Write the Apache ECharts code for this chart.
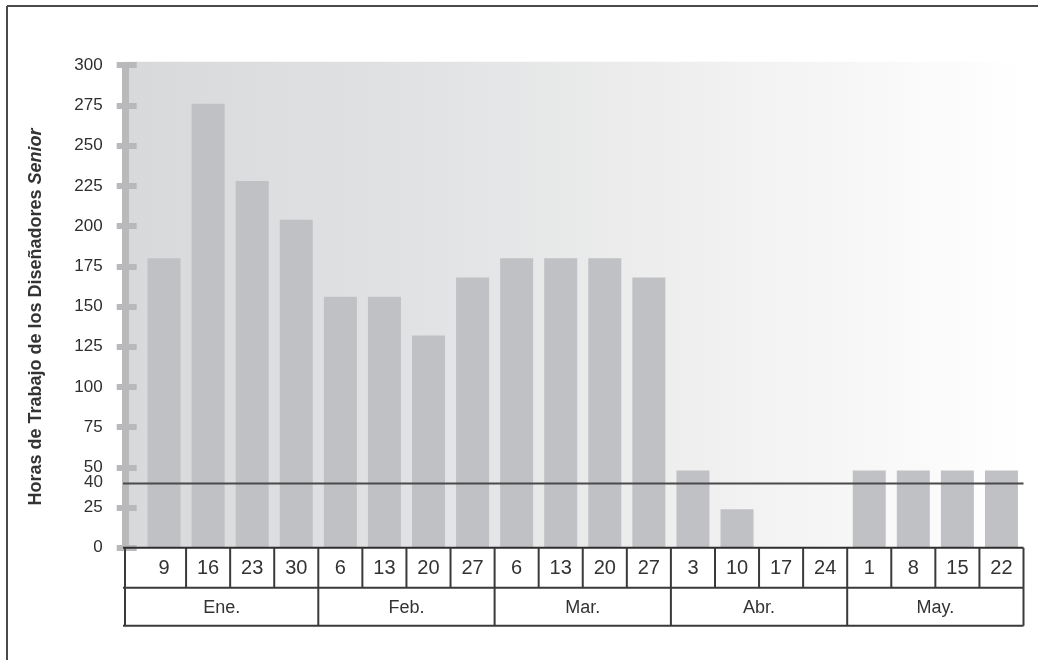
<!DOCTYPE html>
<html>
<head>
<meta charset="utf-8">
<script src="https://cdn.jsdelivr.net/npm/echarts@6/dist/echarts.min.js"></script>
<style>
  html, body { margin: 0; padding: 0; background: #ffffff; }
  #chart { width: 1038px; height: 660px; }
</style>
</head>
<body>
<div id="chart"></div>
<script>
// Week-starting days (x axis, first table row)
const weeks = ['9', '16', '23', '30', '6', '13', '20', '27', '6', '13', '20', '27',
               '3', '10', '17', '24', '1', '8', '15', '22'];
// Senior designer hours per week
const hours = [180, 276, 228, 204, 156, 156, 132, 168, 180, 180, 180, 168,
               48, 24, 0, 0, 48, 48, 48, 48];
// Months (second table row): label, first week index, number of weeks
const months = ['Ene.', 'Feb.', 'Mar.', 'Abr.', 'May.'];
const monthStart = [0, 4, 8, 12, 16];
const monthWeeks = [4, 4, 4, 4, 4];
// Capacity reference line
const capacity = 40;
// Y axis range and step
const yMin = 0, yMax = 300, yStep = 25;

const FONT = '"Liberation Sans", Arial, sans-serif';
const LINE = '#3a3a3a';

const chart = echarts.init(document.getElementById('chart'), null, { renderer: 'canvas' });

// Shaded backdrop behind the bars, starting just right of the thick axis bar
function renderBackdrop(params, api) {
  const cs = params.coordSys;
  return {
    type: 'rect',
    shape: { x: cs.x - 13, y: cs.y - 3.5, width: cs.width + 13, height: cs.height + 3.5 },
    style: {
      fill: new echarts.graphic.LinearGradient(0, 0, 1, 0, [
        { offset: 0, color: '#d8d9db' },
        { offset: 0.35, color: '#e2e3e4' },
        { offset: 0.65, color: '#f0f0f0' },
        { offset: 1, color: '#ffffff' }
      ])
    }
  };
}

// Capacity line with its own label on the value scale
function renderCapacity(params, api) {
  const cs = params.coordSys;
  const y = api.coord([0, api.value(1)])[1];
  return {
    type: 'group',
    children: [
      { type: 'line', shape: { x1: cs.x - 19, y1: y, x2: cs.x + cs.width, y2: y },
        style: { stroke: '#4a4a4a', lineWidth: 2 } },
      { type: 'text', x: cs.x - 39, y: y - 1,
        style: { text: String(capacity), font: '17px ' + FONT, fill: '#333',
                 align: 'right', verticalAlign: 'middle' } }
    ]
  };
}

const ROW = 40, ROW2 = 38;

// First table row: one cell per week
function renderWeekCell(params, api) {
  const cs = params.coordSys;
  const i = api.value(0);
  const c = api.coord([i, 0]);
  const band = api.size([1, 0])[0];
  const top = c[1];
  const right = c[0] + band / 2;
  const children = [
    { type: 'line', shape: { x1: right, y1: top, x2: right, y2: top + ROW },
      style: { stroke: LINE, lineWidth: 2 } },
    { type: 'text', x: c[0], y: top + ROW / 2 + 1,
      style: { text: weeks[params.dataIndex], font: '20px ' + FONT, fill: '#333',
               align: 'center', verticalAlign: 'middle' } }
  ];
  if (params.dataIndex === 0) {
    const left = cs.x - 17;
    const x2 = cs.x + cs.width;
    children.push(
      { type: 'line', shape: { x1: left - 2, y1: top, x2: x2, y2: top },
        style: { stroke: '#2e2e2e', lineWidth: 2 } },
      { type: 'line', shape: { x1: left - 2, y1: top + ROW, x2: x2, y2: top + ROW },
        style: { stroke: LINE, lineWidth: 2 } },
      { type: 'line', shape: { x1: left - 2, y1: top + ROW + ROW2, x2: x2, y2: top + ROW + ROW2 },
        style: { stroke: LINE, lineWidth: 2 } },
      { type: 'line', shape: { x1: left, y1: top, x2: left, y2: top + ROW + ROW2 },
        style: { stroke: LINE, lineWidth: 2 } }
    );
  }
  return { type: 'group', children: children };
}

// Second table row: one cell per month, spanning its weeks
function renderMonthCell(params, api) {
  const cs = params.coordSys;
  const k = params.dataIndex;
  const band = api.size([1, 0])[0];
  const first = api.coord([monthStart[k], 0]);
  const last = api.coord([monthStart[k] + monthWeeks[k] - 1, 0]);
  const top = first[1] + ROW;
  const left = k === 0 ? cs.x - 17 : first[0] - band / 2;
  const right = last[0] + band / 2;
  return {
    type: 'group',
    children: [
      { type: 'line', shape: { x1: right, y1: top, x2: right, y2: top + ROW2 },
        style: { stroke: LINE, lineWidth: 2 } },
      { type: 'text', x: (left + right) / 2, y: top + ROW2 / 2 + 1,
        style: { text: months[k], font: '18px ' + FONT, fill: '#333',
                 align: 'center', verticalAlign: 'middle' } }
    ]
  };
}

const option = {
  backgroundColor: '#ffffff',
  animation: false,
  grid: { left: 142, right: 14.5, top: 65.2, bottom: 112.2 },
  xAxis: {
    type: 'category',
    data: weeks.map((w, i) => i),
    boundaryGap: true,
    axisLine: { show: false },
    axisTick: { show: false },
    axisLabel: { show: false },
    splitLine: { show: false }
  },
  yAxis: [
    {
      type: 'value', min: yMin, max: yMax, interval: yStep,
      position: 'left', offset: 5.3, z: 3,
      axisLine: { show: false },
      axisTick: { show: true, length: 20, lineStyle: { color: '#b9b9bb', width: 6 } },
      axisLabel: { margin: 34, fontFamily: FONT, fontSize: 17, color: '#2e2e2e' },
      splitLine: { show: false }
    },
    {
      type: 'value', min: yMin, max: yMax, interval: yStep,
      position: 'left', offset: 16.5, z: 1,
      axisLine: { show: true, lineStyle: { color: '#b9b9bb', width: 7 } },
      axisTick: { show: false },
      axisLabel: { show: false },
      splitLine: { show: false }
    }
  ],
  series: [
    {
      type: 'custom', z: 0, silent: true,
      renderItem: renderBackdrop,
      data: [[0, yMax]]
    },
    {
      type: 'bar', z: 2,
      data: hours,
      barWidth: 33,
      itemStyle: { color: '#c0c1c4' },
      silent: true
    },
    {
      type: 'custom', z: 6, silent: true,
      renderItem: renderCapacity,
      data: [[0, capacity]]
    },
    {
      type: 'custom', z: 6, silent: true,
      renderItem: renderWeekCell,
      data: weeks.map((w, i) => [i, 0])
    },
    {
      type: 'custom', z: 6, silent: true,
      renderItem: renderMonthCell,
      data: months.map((m, k) => [monthStart[k], 0])
    }
  ],
  graphic: [
    { type: 'line', shape: { x1: 7, y1: 6, x2: 1038, y2: 6 },
      style: { stroke: '#4a4a4a', lineWidth: 2 } },
    { type: 'line', shape: { x1: 7, y1: 6, x2: 7, y2: 660 },
      style: { stroke: '#4a4a4a', lineWidth: 2 } },
    {
      type: 'text', x: 36, y: 317, rotation: Math.PI / 2,
      style: {
        text: '{n|Horas de Trabajo de los Diseñadores }{i|Senior}',
        align: 'center', verticalAlign: 'middle',
        rich: {
          n: { font: 'bold 18px ' + FONT, fill: '#333' },
          i: { font: 'italic bold 18px ' + FONT, fill: '#333' }
        }
      }
    }
  ]
};

chart.setOption(option);
</script>
</body>
</html>
